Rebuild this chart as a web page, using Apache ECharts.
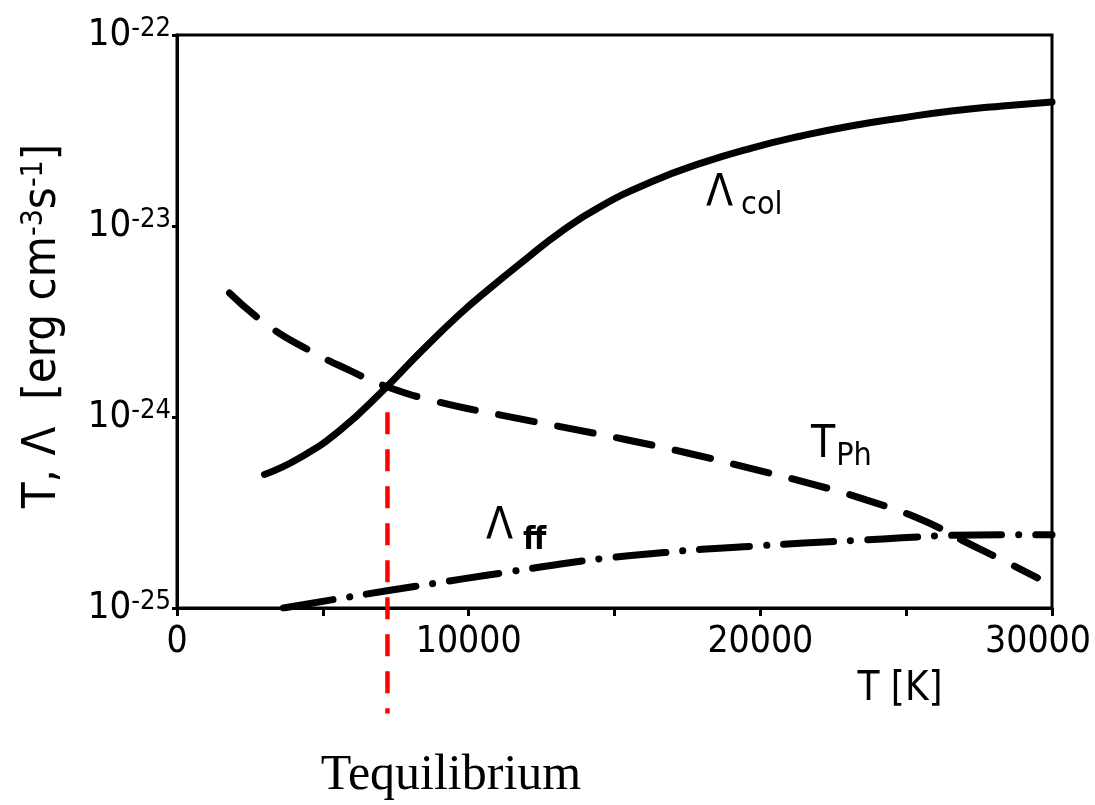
<!DOCTYPE html>
<html>
<head>
<meta charset="utf-8">
<script src="https://cdn.jsdelivr.net/npm/echarts@6/dist/echarts.min.js"></script>
<style>
  html, body { margin: 0; background: #fff; }
  #chart { width: 1095px; height: 805px; }
</style>
</head>
<body>
<div id="chart"></div>
<script>
// values (T in K, rates in erg cm^-3 s^-1)
const colT = [3000, 4200, 5600, 7150, 8350, 9700, 10750, 11900, 13150, 14500, 16250, 18000, 19700, 21400, 23100, 24850, 26550, 28300, 30000]
const colVal = [5.0e-25, 6.1e-25, 8.55e-25, 1.42e-24, 2.19e-24, 3.46e-24, 4.75e-24, 6.6e-24, 9.3e-24, 1.26e-23, 1.7e-23, 2.14e-23, 2.56e-23, 2.96e-23, 3.34e-23, 3.68e-23, 4.0e-23, 4.25e-23, 4.46e-23]

const phT = [1800, 3100, 4500, 5900, 7150, 8950, 11150, 13400, 15450, 17500, 19600, 21650, 23650, 25550, 26900, 28300, 29500]
const phVal = [4.46e-24, 3.03e-24, 2.25e-24, 1.76e-24, 1.45e-24, 1.2e-24, 1.02e-24, 8.75e-25, 7.58e-25, 6.48e-25, 5.41e-25, 4.51e-25, 3.67e-25, 2.89e-25, 2.27e-25, 1.78e-25, 1.44e-25]

const ffT = [3650, 5250, 7200, 9800, 11200, 13150, 14650, 16700, 18000, 20050, 21500, 23550, 24850, 26550, 28300, 30000]
const ffVal = [1.0e-25, 1.1e-25, 1.23e-25, 1.42e-25, 1.53e-25, 1.7e-25, 1.82e-25, 1.95e-25, 2.03e-25, 2.12e-25, 2.19e-25, 2.27e-25, 2.33e-25, 2.4e-25, 2.42e-25, 2.42e-25]

// red marker at the equilibrium temperature
const eqT = [7216, 7216]
const eqVal = [1.06e-24, 2.8e-26]

const xTicks = [0, 10000, 20000, 30000]

// the y axis works in units of 1e-25 so the log scale keeps its precision
const UNIT = 1e-25
const UNIT_EXP = -25

const pairs = (xs, ys) => xs.map((x, i) => [x, ys[i] / UNIT])

const font = "'DejaVu Sans Condensed', 'DejaVu Sans', sans-serif"

const chart = echarts.init(document.getElementById('chart'))

chart.setOption({
  animation: false,
  backgroundColor: '#fff',
  grid: {
    left: 177,
    right: 43,
    top: 35,
    bottom: 197,
    show: true,
    borderColor: '#000',
    borderWidth: 3,
    outerBoundsMode: 'none',
  },
  xAxis: {
    type: 'value',
    min: 0,
    max: 30000,
    interval: 5000,
    splitLine: { show: false },
    axisLine: { lineStyle: { color: '#000', width: 3 } },
    axisTick: { length: 8, lineStyle: { color: '#000', width: 3 } },
    axisLabel: {
      margin: 16,
      color: '#000',
      fontFamily: font,
      fontSize: 37,
      formatter: (v) => {
        if (xTicks.indexOf(v) < 0) return ''
        // last label sits a little left of its tick in the original
        return v === 30000 ? '{r|' + v + '}' : String(v)
      },
      rich: {
        r: { fontFamily: font, fontSize: 37, color: '#000', padding: [0, 28, 0, 0] },
      },
    },
  },
  yAxis: {
    type: 'log',
    logBase: 10,
    min: 1,
    max: 1000,
    splitNumber: 3,
    splitLine: { show: false },
    axisLine: { lineStyle: { color: '#000', width: 3 } },
    axisTick: { length: 5, lineStyle: { color: '#000', width: 3 } },
    axisLabel: {
      margin: 6,
      color: '#000',
      formatter: (v) => '{b|10}{s|' + (Math.round(Math.log10(v)) + UNIT_EXP) + '}',
      rich: {
        b: { fontFamily: font, fontSize: 38, lineHeight: 40, color: '#000', verticalAlign: 'middle' },
        s: { fontFamily: font, fontSize: 27, lineHeight: 27, color: '#000', verticalAlign: 'top' },
      },
    },
  },
  series: [
    {
      name: 'Λcol',
      type: 'line',
      smooth: true,
      showSymbol: false,
      lineStyle: { color: '#000', width: 7, cap: 'round' },
      data: pairs(colT, colVal),
    },
    {
      name: 'TPh',
      type: 'line',
      smooth: true,
      showSymbol: false,
      lineStyle: { color: '#000', width: 7, type: [36, 24], cap: 'round' },
      data: pairs(phT, phVal),
    },
    {
      name: 'Λff',
      type: 'line',
      smooth: true,
      showSymbol: false,
      lineStyle: { color: '#000', width: 7, type: [50, 17, 0.1, 17], cap: 'round' },
      data: pairs(ffT, ffVal),
    },
    {
      name: 'Tequilibrium',
      type: 'line',
      clip: false,
      showSymbol: false,
      z: 5,
      lineStyle: { color: '#ff0000', width: 4.5, type: [22, 15] },
      data: pairs(eqT, eqVal),
    },
  ],
  graphic: [
    {
      type: 'text',
      x: 43,
      y: 326,
      rotation: Math.PI / 2,
      style: {
        text: '{a|T, Λ  [erg cm}{s|-3}{a|s}{s|-1}{a|]}',
        align: 'center',
        verticalAlign: 'middle',
        rich: {
          a: { fontFamily: font, fontSize: 47, lineHeight: 48, fill: '#000', verticalAlign: 'middle' },
          s: { fontFamily: font, fontSize: 30, lineHeight: 30, fill: '#000', verticalAlign: 'top' },
        },
      },
    },
    {
      type: 'text',
      x: 900,
      y: 690,
      style: { text: 'T [K]', font: '40px ' + font, fill: '#000', align: 'center', verticalAlign: 'middle' },
    },
    {
      type: 'text',
      x: 706,
      y: 173,
      style: {
        text: '{L|Λ}{c|col}',
        rich: {
          L: { fontFamily: font, fontSize: 44, fill: '#000', verticalAlign: 'bottom', padding: [0, 8, 5, 0] },
          c: { fontFamily: font, fontSize: 32, fill: '#000', verticalAlign: 'bottom' },
        },
      },
    },
    {
      type: 'text',
      x: 811,
      y: 424,
      style: {
        text: '{L|T}{c|Ph}',
        rich: {
          L: { fontFamily: font, fontSize: 44, fill: '#000', verticalAlign: 'bottom', padding: [0, 1, 5, 0] },
          c: { fontFamily: font, fontSize: 32, fill: '#000', verticalAlign: 'bottom' },
        },
      },
    },
    {
      type: 'text',
      x: 486,
      y: 506,
      style: {
        text: '{L|Λ}{c|ff}',
        rich: {
          L: { fontFamily: font, fontSize: 44, fill: '#000', verticalAlign: 'bottom', padding: [0, 10, 7, 0] },
          c: { fontFamily: font, fontSize: 32, fill: '#000', verticalAlign: 'bottom', fontWeight: 'bold' },
        },
      },
    },
    {
      type: 'text',
      x: 451,
      y: 776,
      style: { text: 'Tequilibrium', font: '50px "Liberation Serif", "Times New Roman", serif', fill: '#000', align: 'center', verticalAlign: 'middle' },
    },
  ],
})
</script>
</body>
</html>
